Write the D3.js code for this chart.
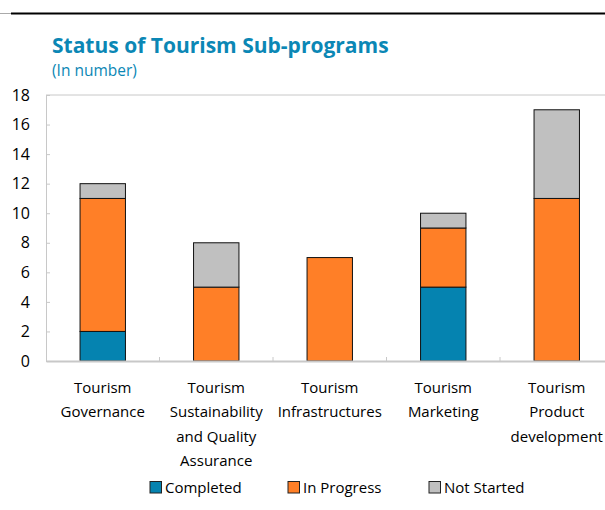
<!DOCTYPE html>
<html>
<head>
<meta charset="utf-8">
<script src="https://cdn.jsdelivr.net/npm/d3@7"></script>
<style>
  body { margin: 0; background: #fff; }
  svg { display: block; font-family: "Open Sans", "Noto Sans", sans-serif; }
</style>
</head>
<body>
<svg></svg>
<script>
const categories = [
  ["Tourism", "Governance"],
  ["Tourism", "Sustainability", "and Quality", "Assurance"],
  ["Tourism", "Infrastructures"],
  ["Tourism", "Marketing"],
  ["Tourism", "Product", "development"]
];
const completed = [2, 0, 0, 5, 0];
const inProgress = [9, 5, 7, 4, 11];
const notStarted = [1, 3, 0, 1, 6];
const seriesNames = ["Completed", "In Progress", "Not Started"];
const seriesColors = ["#0583b0", "#ff7f27", "#c0c0c0"];
const yTicks = [0, 2, 4, 6, 8, 10, 12, 14, 16, 18];

const size = { w: 605, h: 510 };
const plot = { l: 46, t: 95, b: 361, r: 613.5 };
const svg = d3.select("svg").attr("width", size.w).attr("height", size.h);

// rule at the top
svg.append("line").attr("x1", 0).attr("x2", 11).attr("y1", 13.5).attr("y2", 13.5)
  .attr("stroke", "#aaa").attr("stroke-width", 1);
svg.append("line").attr("x1", 11).attr("x2", size.w).attr("y1", 13.5).attr("y2", 13.5)
  .attr("stroke", "#000").attr("stroke-width", 2);

// title
svg.append("text").attr("x", 52).attr("y", 53)
  .attr("fill", "#0b87b5").attr("font-size", 21).attr("font-weight", "bold")
  .text("Status of Tourism Sub-programs");
svg.append("text").attr("x", 52).attr("y", 76)
  .attr("fill", "#0b87b5").attr("font-size", 15.5)
  .text("(In number)");

const idx = d3.range(categories.length);
const x = d3.scaleBand().domain(idx).range([plot.l, plot.r]).paddingInner(0.6).paddingOuter(0.3);
const band = d3.scaleBand().domain(idx).range([plot.l, plot.r]);
const y = d3.scaleLinear().domain([0, 18]).range([plot.b, plot.t]);

// frame
svg.append("line").attr("x1", plot.l).attr("x2", size.w).attr("y1", plot.t).attr("y2", plot.t)
  .attr("stroke", "#c8c8c8");

const rows = idx.map(i => ({ i, Completed: completed[i], "In Progress": inProgress[i], "Not Started": notStarted[i] }));
const stacked = d3.stack().keys(seriesNames)(rows);

svg.append("g").selectAll("g")
  .data(stacked)
  .join("g")
  .attr("fill", (d, k) => seriesColors[k])
  .selectAll("rect")
  .data(d => d.filter(s => s[1] > s[0]))
  .join("rect")
  .attr("x", d => x(d.data.i))
  .attr("width", x.bandwidth())
  .attr("y", d => y(d[1]))
  .attr("height", d => y(d[0]) - y(d[1]))
  .attr("stroke", "#111")
  .attr("stroke-width", 1);

// y axis
const yAxis = svg.append("g")
  .attr("transform", `translate(${plot.l},0)`)
  .call(d3.axisLeft(y).tickValues(yTicks).tickSize(-4).tickPadding(16));
yAxis.select(".domain").attr("stroke", "#c8c8c8");
yAxis.selectAll(".tick line").attr("stroke", "#c8c8c8");
yAxis.selectAll("text").attr("font-size", 16).attr("fill", "#000")
  .attr("font-family", "'Open Sans', sans-serif");

// x axis
const xAxis = svg.append("g")
  .attr("transform", `translate(0,${plot.b})`)
  .call(d3.axisBottom(band).tickSize(0).tickFormat(""));
xAxis.select(".domain").attr("stroke", "#c8c8c8").attr("stroke-width", 2);
xAxis.selectAll(".tick").remove();
xAxis.selectAll("line.sep")
  .data(idx.slice(1))
  .join("line")
  .attr("class", "sep")
  .attr("x1", d => band(d)).attr("x2", d => band(d))
  .attr("y1", 0).attr("y2", -4)
  .attr("stroke", "#c8c8c8");

svg.append("g").selectAll("text")
  .data(idx)
  .join("text")
  .attr("text-anchor", "middle")
  .attr("font-size", 15)
  .attr("fill", "#000")
  .attr("x", i => band(i) + band.bandwidth() / 2)
  .attr("y", 393)
  .selectAll("tspan")
  .data(i => categories[i].map(t => ({ t, x: band(i) + band.bandwidth() / 2 })))
  .join("tspan")
  .attr("x", d => d.x)
  .attr("dy", (d, k) => k === 0 ? 0 : 24.3)
  .text(d => d.t);

// legend
const legendX = [150, 288, 429];
const legend = svg.append("g").selectAll("g")
  .data(seriesNames)
  .join("g")
  .attr("transform", (d, k) => `translate(${legendX[k]},481.5)`);
legend.append("rect").attr("width", 11.5).attr("height", 11.5)
  .attr("fill", (d, k) => seriesColors[k]).attr("stroke", "#222");
legend.append("text").attr("x", 15).attr("y", 11).attr("font-size", 15)
  .attr("fill", "#000").text(d => d);
</script>
</body>
</html>
